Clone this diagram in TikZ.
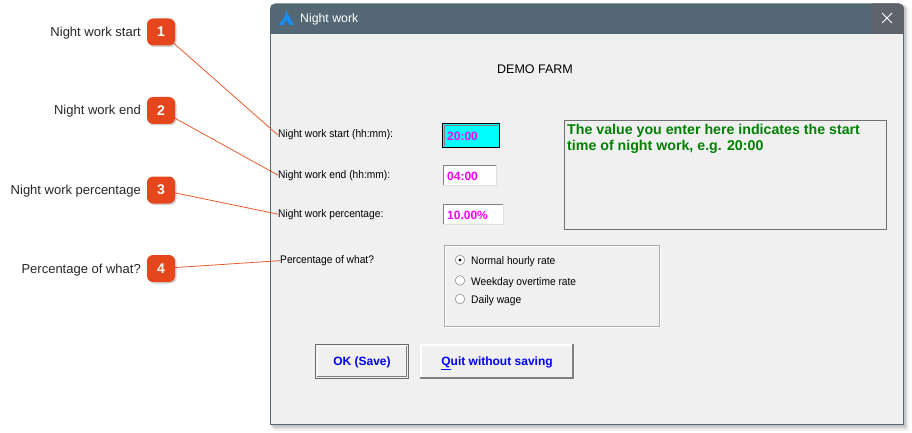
\documentclass[tikz,border=0pt]{standalone}
\usepackage{fontspec}
\setmainfont{Liberation Sans}
\usetikzlibrary{shadows}
\pgfdeclarelayer{back}
\pgfdeclarelayer{lines}
\pgfsetlayers{back,lines,main}
\definecolor{titlebar}{HTML}{536874}
\definecolor{closebg}{HTML}{5F636E}
\definecolor{winbg}{HTML}{F0F0F0}
\definecolor{badgecol}{HTML}{E5461B}
\definecolor{conncol}{HTML}{E95A2C}
\definecolor{btntext}{HTML}{0000F0}
\definecolor{helpgreen}{HTML}{008000}
\definecolor{fieldtext}{HTML}{FF00FF}
\definecolor{fieldcyan}{HTML}{00FFFF}
\definecolor{iconblue}{HTML}{1A8CF0}
\definecolor{bevdark}{HTML}{808080}
\definecolor{helpborder}{HTML}{707070}
\begin{document}
\begin{tikzpicture}[x=1pt,y=-1pt,
  callout/.style={font=\fontsize{13}{15}\selectfont, text=black!85, anchor=base east, inner sep=0pt},
  badgebox/.style={rectangle, rounded corners=6pt, fill=badgecol, minimum width=28pt, minimum height=27pt,
     text=white, font=\bfseries\fontsize{14}{16}\selectfont, inner sep=0pt,
     drop shadow={shadow xshift=1.5pt, shadow yshift=-1.5pt, opacity=0.35}},
  connline/.style={draw=conncol, line width=0.8pt},
  dlglabel/.style={font=\fontsize{11}{13}\selectfont\addfontfeature{FakeStretch=0.93}, anchor=base west, inner sep=0pt},
  fieldval/.style={font=\bfseries\fontsize{12}{14}\selectfont, text=fieldtext, anchor=base west, inner sep=0pt},
  radiotext/.style={font=\fontsize{11}{13}\selectfont\addfontfeature{FakeStretch=0.93}, anchor=base west, inner sep=0pt},
  helptext/.style={font=\bfseries\fontsize{14.2}{16}\selectfont, text=helpgreen, anchor=base west, inner sep=0pt},
  btnlabel/.style={font=\bfseries\fontsize{12}{14}\selectfont, text=btntext, inner sep=0pt, anchor=base},
  radiobtn/.style={draw=gray!75, fill=white, line width=0.7pt}
]
\useasboundingbox (0,0) rectangle (912,433);

% ---------- window ----------
\begin{pgfonlayer}{back}
  \fill[black, opacity=0.06] (274,8) rectangle (909,431);
  \fill[black, opacity=0.08] (272,6) rectangle (907,429);
  \fill[black, opacity=0.10] (271,5) rectangle (905.5,427);
  \begin{scope}
    \clip[rounded corners=5pt] (270,3.5) rectangle (904,45);
    \fill[titlebar] (270,3.5) rectangle (904,34);
    \fill[closebg] (872,3.5) rectangle (904,34);
  \end{scope}
  \fill[winbg] (270,34) rectangle (904,425);
  \draw[titlebar, line width=1pt] (270.5,34) -- (270.5,424.5) -- (903.5,424.5) -- (903.5,34);
  % icon
  \fill[iconblue] (279,25) -- (286.5,11) -- (294,25) -- cycle;
  \fill[titlebar] (283.5,25.5) -- (286.5,20) -- (289.5,25.5) -- cycle;
  \draw[titlebar, line width=1.1pt] (281,21.5) -- (285,14.5);
  % close cross
  \draw[white, line width=0.9pt] (882,13) -- (892,23) (882,23) -- (892,13);
\end{pgfonlayer}

\node[anchor=base west, inner sep=0pt, text=white, font=\fontsize{12.3}{14}\selectfont] (title) at (300,23) {Night work};
\node[anchor=base, inner sep=0pt, font=\fontsize{12.5}{14}\selectfont] (farm) at (535,73.5) {DEMO FARM};

% ---------- labels in the dialog ----------
\node[dlglabel] (l1) at (278,138) {Night work start (hh:mm):};
\node[dlglabel] (l2) at (278,178) {Night work end (hh:mm):};
\node[dlglabel] (l3) at (278,217) {Night work percentage:};
\node[dlglabel] (l4) at (280,263.5) {Percentage of what?};

% ---------- fields ----------
\fill[fieldcyan] (442,123) rectangle (500,148);
\draw[black, line width=1pt] (442.5,123.5) rectangle (499.5,147.5);
\draw[bevdark, line width=1.2pt] (444.5,146) -- (444.5,125.5) -- (498,125.5);
\node[fieldval] (v1) at (447,140.5) {20:00};

\fill[white] (443,165) rectangle (497,186);
\draw[bevdark, line width=1.4pt] (443.7,186) -- (443.7,165.7) -- (497,165.7);
\draw[gray!25, line width=0.8pt] (443,185.6) -- (496.6,185.6) -- (496.6,165);
\node[fieldval] (v2) at (447,180) {04:00};

\fill[white] (443,204) rectangle (504,225);
\draw[bevdark, line width=1.4pt] (443.7,225) -- (443.7,204.7) -- (504,204.7);
\draw[gray!25, line width=0.8pt] (443,224.6) -- (503.6,224.6) -- (503.6,204);
\node[fieldval] (v3) at (447,219) {10.00\%};

% ---------- help box ----------
\draw[helpborder, line width=0.9pt, fill=winbg] (564.5,120.5) rectangle (886.5,229.5);
\node[helptext] (h1) at (567,134) {The value you enter here indicates the start};
\node[helptext] (h2) at (567,150) {time of night work, e.g. 20:00};

% ---------- radio group ----------
\draw[white, line width=0.8pt] (445,246) rectangle (660,327);
\draw[gray!65, line width=0.8pt] (444,245) rectangle (659,326);
\draw[radiobtn] (460,260) circle (4.8pt);
\fill[black] (460,260) circle (1.7pt);
\draw[radiobtn] (460,280.5) circle (4.8pt);
\draw[radiobtn] (460,299) circle (4.8pt);
\node[radiotext] (r1) at (471,264.5) {Normal hourly rate};
\node[radiotext] (r2) at (471,285) {Weekday overtime rate};
\node[radiotext] (r3) at (471,303.5) {Daily wage};

% ---------- buttons ----------
\fill[winbg] (315,344) rectangle (409,379);
\draw[white, line width=1pt] (317.5,377) -- (317.5,346.5) -- (407,346.5);
\draw[bevdark, line width=1pt] (317,376.5) -- (406.5,376.5) -- (406.5,346);
\draw[black!58, line width=1.2pt] (315.6,344.6) rectangle (408.4,378.4);
\node[btnlabel] (ok) at (362,365.5) {OK (Save)};

\fill[winbg] (420,344) rectangle (574,379);
\draw[white, line width=1.5pt] (420.75,379) -- (420.75,344.75) -- (573,344.75);
\draw[black!50, line width=1.8pt] (420,378) -- (573,378) -- (573,344);
\node[btnlabel] (quit) at (497,365.5) {\underline{Q}uit without saving};

% ---------- callouts ----------
\node[callout] (c1) at (141,36.5) {Night work start};
\node[callout] (c2) at (141,115) {Night work end};
\node[callout] (c3) at (141,194) {Night work percentage};
\node[callout] (c4) at (141,273) {Percentage of what?};
\node[badgebox] (b1) at (161,32) {1};
\node[badgebox] (b2) at (161,110.5) {2};
\node[badgebox] (b3) at (161,190) {3};
\node[badgebox] (b4) at (161,268.5) {4};

\begin{pgfonlayer}{lines}
  \draw[connline] (b1.center) -- (l1.west);
  \draw[connline] (b2.center) -- (l2.west);
  \draw[connline] (b3.center) -- (l3.west);
  \draw[connline] (b4.center) -- (l4.west);
\end{pgfonlayer}
\end{tikzpicture}
\end{document}
